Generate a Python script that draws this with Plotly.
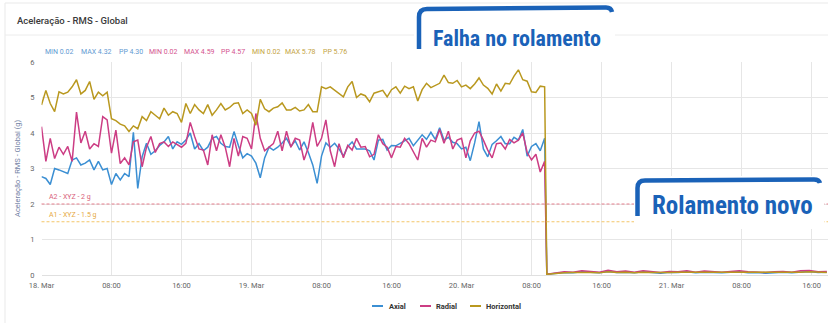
import pandas as pd
import plotly.graph_objects as go

W, H = 828, 323

# RMS acceleration (g), every 30 min from 18 Mar 00:00 until the bearing failed
axial_before = [
    2.77, 2.72, 2.55, 3.00, 2.96, 2.90, 2.86, 3.24,
    3.30, 3.10, 3.15, 3.24, 2.96, 3.20, 2.96, 3.00,
    2.55, 2.86, 2.68, 2.86, 2.77, 4.02, 2.44, 3.33,
    3.71, 3.40, 3.50, 3.65, 3.75, 3.90, 3.55, 3.75,
    3.68, 3.80, 4.00, 3.55, 3.70, 3.50, 3.60, 3.85,
    3.90, 3.71, 3.62, 3.60, 4.04, 3.65, 3.30, 3.42,
    3.35, 3.15, 2.74, 3.30, 3.60, 3.52, 3.60, 3.72,
    3.85, 3.62, 3.78, 3.52, 3.75, 3.45, 3.10, 2.58,
    3.35, 3.72, 3.60, 3.71, 3.55, 3.35, 3.62, 3.75,
    3.55, 3.55, 3.55, 3.50, 3.24, 3.80, 3.82, 3.52,
    3.65, 3.64, 3.71, 3.78, 3.85, 3.64, 3.78, 3.95,
    3.82, 4.02, 3.82, 4.15, 3.80, 3.88, 3.74, 3.70,
    3.55, 3.60, 3.22, 3.72, 4.32, 3.55, 3.33, 3.68,
    3.78, 3.90, 3.70, 3.70, 3.88, 3.80, 4.10, 3.35,
    3.62, 3.70, 3.50, 3.85,
]
radial_before = [
    4.18, 3.20, 3.85, 3.28, 3.60, 3.40, 3.62, 3.20,
    4.59, 3.72, 4.05, 3.55, 3.70, 3.62, 4.46, 4.37,
    3.43, 4.08, 3.14, 3.30, 3.10, 3.75, 3.80, 3.05,
    3.60, 3.90, 3.45, 3.70, 3.75, 3.62, 3.75, 3.68,
    3.60, 3.71, 4.30, 3.90, 3.55, 3.52, 3.10, 3.95,
    3.50, 3.95, 3.60, 3.05, 3.85, 3.35, 3.90, 3.85,
    3.55, 4.55, 3.85, 3.50, 3.60, 3.70, 4.05, 3.50,
    4.05, 3.60, 3.85, 3.80, 3.24, 3.60, 4.30, 3.62,
    3.85, 4.37, 3.50, 3.05, 3.70, 3.30, 3.65, 3.52,
    3.85, 3.60, 3.62, 3.33, 3.40, 3.95, 3.70, 3.60,
    3.30, 3.62, 3.60, 3.85, 3.70, 3.45, 3.24, 3.85,
    3.60, 3.80, 3.75, 4.10, 3.71, 4.05, 3.55, 3.80,
    3.85, 3.30, 3.78, 4.00, 4.05, 3.80, 3.52, 3.30,
    3.70, 3.72, 3.55, 3.82, 3.72, 3.80, 4.00, 3.45,
    3.24, 3.40, 2.90, 3.20,
]
horizontal_before = [
    4.79, 5.20, 4.83, 4.60, 5.16, 5.10, 5.15, 5.30,
    5.50, 5.10, 5.20, 5.45, 4.95, 5.15, 5.05, 5.15,
    4.40, 4.35, 4.25, 4.20, 4.04, 4.20, 4.12, 4.46,
    4.35, 4.60, 4.50, 4.40, 4.70, 4.50, 4.60, 4.55,
    4.30, 4.83, 4.55, 4.80, 4.65, 4.55, 4.80, 4.50,
    4.65, 4.83, 4.65, 4.72, 4.83, 4.85, 4.55, 4.65,
    4.55, 4.22, 4.95, 4.68, 4.60, 4.70, 4.74, 4.85,
    4.65, 4.65, 4.72, 4.62, 4.65, 4.80, 4.60, 4.60,
    5.30, 5.25, 5.30, 5.20, 5.10, 5.02, 5.30, 5.45,
    5.00, 5.10, 5.05, 4.88, 5.12, 5.16, 5.20, 5.02,
    5.22, 5.30, 5.12, 5.32, 5.25, 5.30, 4.90, 5.22,
    5.40, 5.28, 5.35, 5.40, 5.63, 5.42, 5.40, 5.48,
    5.30, 5.35, 5.25, 5.38, 5.55, 5.35, 5.26, 5.10,
    5.38, 5.18, 5.40, 5.38, 5.60, 5.78, 5.50, 5.46,
    5.16, 5.14, 5.32, 5.30,
]

# hourly readings after the new bearing went in (from 20 Mar 09:45)
axial_after = [
    0.02, 0.05, 0.07, 0.06, 0.09, 0.08, 0.06, 0.10, 0.07, 0.08, 0.06,
    0.09, 0.07, 0.05, 0.08, 0.07, 0.09, 0.06, 0.08, 0.07, 0.06, 0.08,
    0.09, 0.06, 0.07, 0.05, 0.07, 0.08, 0.06, 0.09, 0.10, 0.07, 0.08,
]
radial_after = [
    0.02, 0.06, 0.09, 0.08, 0.12, 0.10, 0.08, 0.13, 0.09, 0.11, 0.08,
    0.12, 0.10, 0.07, 0.10, 0.09, 0.12, 0.08, 0.11, 0.10, 0.08, 0.10,
    0.12, 0.09, 0.08, 0.07, 0.09, 0.10, 0.08, 0.12, 0.13, 0.09, 0.10,
]
horizontal_after = [
    0.02, 0.05, 0.06, 0.07, 0.08, 0.07, 0.06, 0.09, 0.07, 0.08, 0.06,
    0.08, 0.07, 0.06, 0.07, 0.08, 0.08, 0.06, 0.07, 0.08, 0.06, 0.07,
    0.08, 0.07, 0.06, 0.06, 0.07, 0.08, 0.07, 0.08, 0.09, 0.07, 0.07,
]

series_names = ["Axial", "Radial", "Horizontal"]
series_colors = ["#3b8fd3", "#cc3d84", "#b9981f"]
stat_colors = ["#5f9ad2", "#d4548f", "#c4a443"]

tick_labels = ["18. Mar", "08:00", "16:00", "19. Mar", "08:00", "16:00",
               "20. Mar", "08:00", "16:00", "21. Mar", "08:00", "16:00"]

# alarm levels: label, value (g), line colour, label colour
alarm_levels = [
    ("A2 - XYZ - 2 g", 2.0, "#e57f8c", "#d9607a"),
    ("A1 - XYZ - 1.5 g", 1.5, "#f3c66a", "#e6a93e"),
]

title_text = "Aceleração - RMS - Global"
y_title = "Aceleração - RMS - Global (g)"
# text, left edge (px), vertical centre (px), font size
callouts = [("Falha no rolamento", 430.5, 38, 22), ("Rolamento novo", 649.5, 205.5, 25)]

# ---------------------------------------------------------------------------
times = list(pd.date_range("2024-03-18 00:00", periods=len(axial_before), freq="30min")) + \
        list(pd.date_range("2024-03-20 09:45", periods=len(axial_after), freq="h"))
series_values = [axial_before + axial_after,
                 radial_before + radial_after,
                 horizontal_before + horizontal_after]
tick_vals = list(pd.date_range("2024-03-18 00:00", periods=len(tick_labels), freq="8h"))


def fx(x):
    return x / W


def fy(y):
    return 1 - y / H


def path(*segments):
    out = []
    for seg in segments:
        cmd, pts = seg[0], seg[1:]
        coords = " ".join(f"{fx(pts[i]):.5f},{fy(pts[i + 1]):.5f}" for i in range(0, len(pts), 2))
        out.append(f"{cmd}{coords}")
    return " ".join(out)


FONT = "Roboto, 'Open Sans', sans-serif"
CALLOUT_FONT = "'Liberation Sans Narrow', 'Roboto Condensed', Roboto, sans-serif"
BLUE = "#1a62b8"

fig = go.Figure()
for name, vals, col in zip(series_names, series_values, series_colors):
    fig.add_trace(go.Scatter(x=times, y=vals, mode="lines", name=name,
                             line=dict(color=col, width=1.5), showlegend=False))

shapes = []
annotations = []

# card frame and header divider
shapes.append(dict(type="rect", xref="paper", yref="paper", x0=fx(5), x1=fx(835), y0=fy(3), y1=fy(330),
                   line=dict(color="#e9e9e9", width=1), fillcolor="rgba(0,0,0,0)", layer="below"))
shapes.append(dict(type="line", xref="paper", yref="paper", x0=fx(5), x1=fx(835), y0=fy(35), y1=fy(35),
                   line=dict(color="#ececec", width=1), layer="below"))
annotations.append(dict(text=title_text, xref="paper", yref="paper", x=fx(15), y=fy(20),
                        xanchor="left", yanchor="middle", showarrow=False,
                        font=dict(family=FONT, size=9.5, color="#3a3a3a", weight=500)))

# min / max / peak-to-peak summary for each series
stat_x = [43, 79, 117, 147, 182, 219, 250, 283, 321]
k = 0
for vals, col in zip(series_values, stat_colors):
    lo, hi = min(vals), max(vals)
    for txt in (f"MIN {lo:.2f}", f"MAX {hi:.2f}", f"PP {hi - lo:.2f}"):
        annotations.append(dict(text=txt, xref="paper", yref="paper", x=fx(stat_x[k]), y=fy(51.5),
                                xanchor="left", yanchor="middle", showarrow=False,
                                font=dict(family=FONT, size=7, color=col)))
        k += 1

# alarm thresholds
for label, level, lcol, tcol in alarm_levels:
    shapes.append(dict(type="line", xref="paper", yref="y", x0=fx(41.5), x1=1, y0=level, y1=level,
                       line=dict(color=lcol, width=1, dash="3px,2px"), layer="above"))
    annotations.append(dict(text=label, xref="paper", yref="y", x=fx(47), y=level, yshift=1,
                            xanchor="left", yanchor="bottom", showarrow=False,
                            font=dict(family=FONT, size=7, color=tcol)))

# y axis title
annotations.append(dict(text=y_title, xref="paper", yref="paper", x=fx(17), y=fy(168),
                        xanchor="center", yanchor="middle", textangle=-90, showarrow=False,
                        font=dict(family=FONT, size=7.5, color="#7483a6")))

# legend
legend_pos = [(372, 387), (420, 434), (470, 484)]
for (lx, tx), name, col in zip(legend_pos, series_names, series_colors):
    shapes.append(dict(type="line", xref="paper", yref="paper", x0=fx(lx), x1=fx(lx + 11),
                       y0=fy(306), y1=fy(306), line=dict(color=col, width=2)))
    annotations.append(dict(text=name, xref="paper", yref="paper", x=fx(tx), y=fy(306),
                            xanchor="left", yanchor="middle", showarrow=False,
                            font=dict(family=FONT, size=7.5, color="#333333", weight="bold")))

# callout boxes
shapes.append(dict(type="rect", xref="paper", yref="paper", x0=fx(414), x1=fx(615), y0=fy(5), y1=fy(52),
                   fillcolor="white", line=dict(width=0), layer="above"))
shapes.append(dict(type="path", xref="paper", yref="paper", layer="above",
                   path=path(("M", 419, 49), ("L", 419, 17), ("Q", 419, 9, 427, 9),
                             ("L", 606, 7.5), ("Q", 611, 7.5, 612, 12)),
                   line=dict(color=BLUE, width=4.5)))
shapes.append(dict(type="rect", xref="paper", yref="paper", x0=fx(634), x1=fx(824), y0=fy(176), y1=fy(229),
                   fillcolor="white", line=dict(width=0), layer="above"))
shapes.append(dict(type="path", xref="paper", yref="paper", layer="above",
                   path=path(("M", 637.5, 216), ("L", 637.5, 188), ("Q", 637.5, 180.5, 645, 180.5),
                             ("L", 814, 179.5), ("Q", 819, 179.5, 820, 183)),
                   line=dict(color=BLUE, width=4.5)))
for txt, x0, yc, size in callouts:
    annotations.append(dict(text=txt, xref="paper", yref="paper", x=fx(x0), y=fy(yc),
                            xanchor="left", yanchor="middle", showarrow=False,
                            font=dict(family=CALLOUT_FONT, size=size, color=BLUE, weight="bold")))

fig.update_layout(
    width=W, height=H,
    margin=dict(l=0, r=0, t=0, b=0, autoexpand=False),
    paper_bgcolor="white", plot_bgcolor="white",
    font=dict(family=FONT, size=7.5, color="#666666"),
    showlegend=False,
    shapes=shapes, annotations=annotations,
    xaxis=dict(domain=[fx(41.5), 1], type="date", automargin=False,
               range=[pd.Timestamp("2024-03-18 00:00"), pd.Timestamp("2024-03-21 17:53")],
               tickvals=tick_vals, ticktext=tick_labels, tickangle=0,
               showgrid=True, gridcolor="#e6e6e6", gridwidth=1,
               showline=True, linecolor="#e0e0e0", zeroline=False,
               tickfont=dict(size=7.5, color="#666666"), ticks="", ticklabelstandoff=3),
    yaxis=dict(domain=[fy(275), fy(62)], range=[0, 6], tickvals=[0, 1, 2, 3, 4, 5, 6],
               automargin=False,
               showgrid=True, gridcolor="#e6e6e6", gridwidth=1, zeroline=False,
               showline=False, tickfont=dict(size=7.5, color="#666666"), ticks="",
               ticklabelstandoff=6),
)

fig.write_html("out.html")
